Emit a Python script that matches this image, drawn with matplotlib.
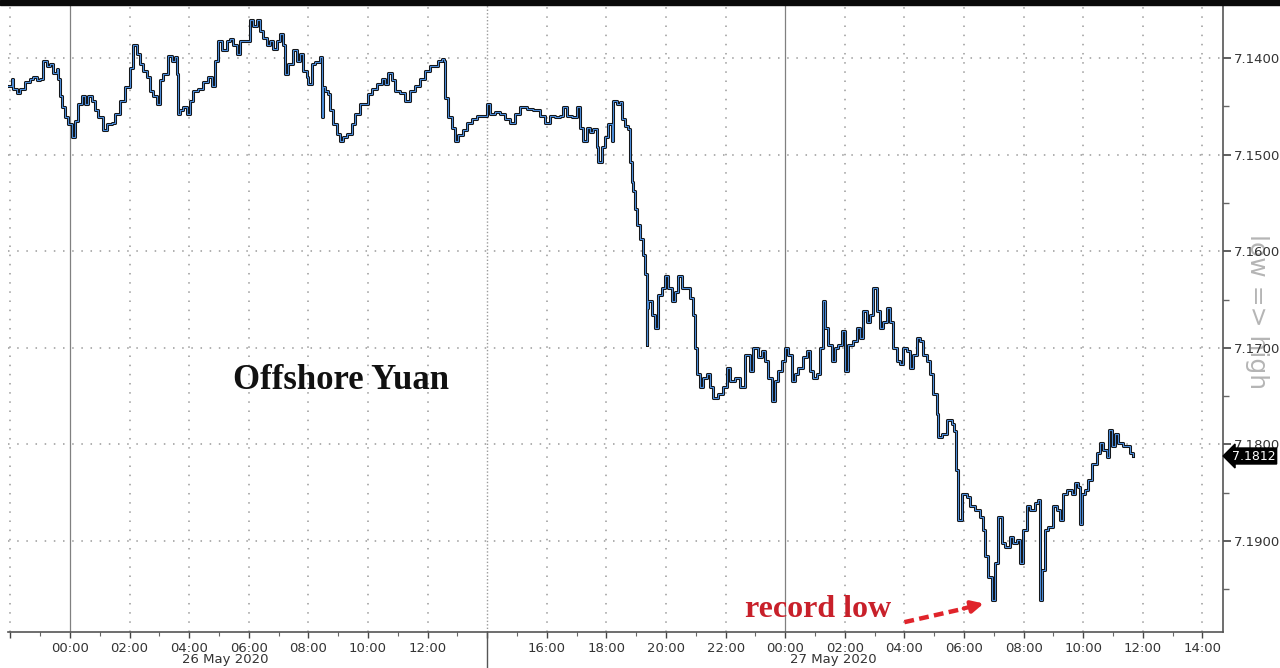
import matplotlib
matplotlib.use("Agg")
import matplotlib.pyplot as plt
import matplotlib.transforms as mtransforms
from matplotlib.patches import Rectangle

# hours since 26 May 2020 00:00
hours = [
    -2.07, -1.96, -1.90, -1.79, -1.68, -1.51, -1.34, -1.23, -1.12, -1.01,
    -0.89, -0.78, -0.67, -0.56, -0.45, -0.39, -0.34, -0.28, -0.17, -0.06,
    0.06, 0.17, 0.28, 0.39, 0.50, 0.61, 0.73, 0.84, 0.95, 1.12,
    1.23, 1.40, 1.51, 1.68, 1.85, 2.01, 2.13, 2.24, 2.35, 2.46,
    2.57, 2.68, 2.80, 2.91, 3.02, 3.13, 3.24, 3.30, 3.41, 3.52,
    3.58, 3.64, 3.69, 3.80, 3.91, 4.03, 4.14, 4.31, 4.47, 4.64,
    4.75, 4.87, 4.98, 5.09, 5.26, 5.37, 5.48, 5.59, 5.70, 5.93,
    6.04, 6.15, 6.26, 6.38, 6.49, 6.60, 6.71, 6.82, 6.94, 7.05,
    7.16, 7.21, 7.33, 7.49, 7.61, 7.72, 7.83, 7.94, 8.00, 8.11,
    8.22, 8.39, 8.44, 8.50, 8.56, 8.67, 8.72, 8.84, 8.95, 9.06,
    9.17, 9.28, 9.45, 9.56, 9.73, 9.90, 10.01, 10.12, 10.29, 10.46,
    10.57, 10.68, 10.79, 10.91, 11.07, 11.24, 11.41, 11.58, 11.74, 11.91,
    12.08, 12.25, 12.36, 12.47, 12.55, 12.58, 12.70, 12.81, 12.92, 13.03,
    13.20, 13.31, 13.48, 13.65, 13.82, 13.98, 14.09, 14.26, 14.43, 14.60,
    14.77, 14.93, 15.10, 15.32, 15.55, 15.77, 15.94, 16.11, 16.28, 16.44,
    16.55, 16.67, 16.83, 17.00, 17.11, 17.22, 17.34, 17.45, 17.56, 17.67,
    17.73, 17.84, 17.95, 18.07, 18.18, 18.23, 18.35, 18.46, 18.51, 18.62,
    18.74, 18.79, 18.85, 18.90, 18.96, 19.02, 19.13, 19.24, 19.30, 19.35,
    19.37, 19.41, 19.52, 19.63, 19.74, 19.85, 19.97, 20.08, 20.19, 20.30,
    20.41, 20.53, 20.69, 20.81, 20.92, 20.97, 21.03, 21.14, 21.25, 21.37,
    21.48, 21.59, 21.76, 21.92, 22.04, 22.15, 22.32, 22.48, 22.65, 22.82,
    22.93, 23.10, 23.21, 23.32, 23.43, 23.55, 23.66, 23.77, 23.88, 23.99,
    24.10, 24.22, 24.33, 24.44, 24.61, 24.72, 24.83, 24.94, 25.06, 25.17,
    25.28, 25.34, 25.45, 25.56, 25.67, 25.78, 25.90, 26.01, 26.12, 26.28,
    26.40, 26.51, 26.62, 26.73, 26.85, 26.96, 27.07, 27.18, 27.29, 27.41,
    27.52, 27.63, 27.74, 27.85, 27.96, 28.08, 28.19, 28.30, 28.41, 28.52,
    28.64, 28.75, 28.86, 28.97, 29.08, 29.14, 29.25, 29.42, 29.59, 29.66,
    29.73, 29.81, 29.92, 29.98, 30.09, 30.20, 30.37, 30.54, 30.65, 30.70,
    30.82, 30.93, 31.04, 31.15, 31.26, 31.38, 31.54, 31.66, 31.77, 31.88,
    31.99, 32.10, 32.21, 32.38, 32.49, 32.55, 32.61, 32.72, 32.83, 33.00,
    33.11, 33.22, 33.33, 33.45, 33.61, 33.72, 33.84, 33.89, 33.95, 34.06,
    34.17, 34.28, 34.45, 34.56, 34.67, 34.79, 34.88, 34.96, 35.07, 35.18,
    35.35, 35.46, 35.57, 35.67,
]
cnh = [
    7.1429, 7.1422, 7.1432, 7.1436, 7.1432, 7.1425, 7.1422, 7.1420, 7.1423, 7.1422,
    7.1403, 7.1408, 7.1406, 7.1415, 7.1411, 7.1422, 7.1439, 7.1451, 7.1461, 7.1468,
    7.1482, 7.1465, 7.1448, 7.1439, 7.1448, 7.1439, 7.1444, 7.1454, 7.1461, 7.1475,
    7.1468, 7.1467, 7.1458, 7.1444, 7.1430, 7.1410, 7.1387, 7.1396, 7.1406, 7.1413,
    7.1420, 7.1434, 7.1439, 7.1448, 7.1423, 7.1417, 7.1417, 7.1398, 7.1403, 7.1399,
    7.1417, 7.1458, 7.1454, 7.1451, 7.1458, 7.1444, 7.1434, 7.1432, 7.1425, 7.1420,
    7.1429, 7.1403, 7.1382, 7.1392, 7.1382, 7.1380, 7.1386, 7.1396, 7.1382, 7.1382,
    7.1361, 7.1367, 7.1361, 7.1372, 7.1379, 7.1386, 7.1382, 7.1391, 7.1382, 7.1375,
    7.1386, 7.1417, 7.1406, 7.1392, 7.1403, 7.1396, 7.1413, 7.1420, 7.1427, 7.1406,
    7.1404, 7.1399, 7.1461, 7.1430, 7.1434, 7.1437, 7.1454, 7.1468, 7.1479, 7.1486,
    7.1482, 7.1479, 7.1468, 7.1458, 7.1448, 7.1448, 7.1437, 7.1432, 7.1427, 7.1422,
    7.1427, 7.1415, 7.1423, 7.1434, 7.1436, 7.1444, 7.1434, 7.1429, 7.1422, 7.1413,
    7.1408, 7.1408, 7.1403, 7.1401, 7.1403, 7.1441, 7.1461, 7.1472, 7.1486, 7.1480,
    7.1475, 7.1467, 7.1463, 7.1460, 7.1460, 7.1448, 7.1458, 7.1456, 7.1458, 7.1463,
    7.1467, 7.1458, 7.1451, 7.1453, 7.1454, 7.1460, 7.1467, 7.1460, 7.1461, 7.1460,
    7.1451, 7.1460, 7.1461, 7.1451, 7.1472, 7.1486, 7.1472, 7.1477, 7.1473, 7.1492,
    7.1508, 7.1492, 7.1482, 7.1468, 7.1486, 7.1444, 7.1448, 7.1446, 7.1463, 7.1470,
    7.1473, 7.1508, 7.1528, 7.1538, 7.1556, 7.1573, 7.1587, 7.1604, 7.1624, 7.1697,
    7.1659, 7.1652, 7.1666, 7.1679, 7.1645, 7.1638, 7.1626, 7.1638, 7.1652, 7.1642,
    7.1626, 7.1638, 7.1638, 7.1648, 7.1666, 7.1700, 7.1727, 7.1741, 7.1731, 7.1727,
    7.1741, 7.1752, 7.1748, 7.1741, 7.1721, 7.1734, 7.1731, 7.1741, 7.1707, 7.1724,
    7.1700, 7.1710, 7.1703, 7.1714, 7.1731, 7.1755, 7.1734, 7.1724, 7.1714, 7.1700,
    7.1707, 7.1734, 7.1727, 7.1721, 7.1710, 7.1703, 7.1724, 7.1731, 7.1727, 7.1700,
    7.1652, 7.1679, 7.1697, 7.1714, 7.1700, 7.1697, 7.1683, 7.1724, 7.1697, 7.1693,
    7.1679, 7.1690, 7.1662, 7.1673, 7.1666, 7.1638, 7.1662, 7.1679, 7.1673, 7.1659,
    7.1673, 7.1700, 7.1714, 7.1717, 7.1700, 7.1703, 7.1721, 7.1707, 7.1690, 7.1693,
    7.1707, 7.1714, 7.1727, 7.1748, 7.1768, 7.1792, 7.1789, 7.1775, 7.1779, 7.1786,
    7.1827, 7.1878, 7.1851, 7.1851, 7.1854, 7.1864, 7.1868, 7.1875, 7.1889, 7.1916,
    7.1937, 7.1961, 7.1923, 7.1875, 7.1902, 7.1906, 7.1896, 7.1902, 7.1899, 7.1923,
    7.1889, 7.1864, 7.1868, 7.1861, 7.1858, 7.1961, 7.1930, 7.1889, 7.1885, 7.1864,
    7.1868, 7.1878, 7.1851, 7.1847, 7.1851, 7.1840, 7.1844, 7.1882, 7.1851, 7.1847,
    7.1837, 7.1820, 7.1809, 7.1799, 7.1806, 7.1813, 7.1785, 7.1802, 7.1789, 7.1799,
    7.1802, 7.1802, 7.1809, 7.1812,
]

tick_hours = list(range(-2, 40, 2))
tick_labels = ["", "00:00", "02:00", "04:00", "06:00", "08:00", "10:00", "12:00", "",
               "16:00", "18:00", "20:00", "22:00", "00:00", "02:00", "04:00", "06:00",
               "08:00", "10:00", "12:00", "14:00"]
price_ticks = [7.14, 7.15, 7.16, 7.17, 7.18, 7.19]
last_price = 7.1812

fig = plt.figure(figsize=(12.8, 6.68), dpi=100)
ax = fig.add_axes([8 / 1280, 1 - 632 / 668, 1215 / 1280, 627 / 668])

ax.set_xlim(-2.08, 38.69)
ax.set_ylim(7.19942, 7.13451)

# grid
for h in tick_hours:
    if h in (0, 24):
        ax.axvline(h, color="#808080", lw=0.9, zorder=1)
    elif h == 14:
        ax.axvline(h, color="#9a9a9a", lw=1.0, ls=(0, (1, 1.5)), zorder=1)
    else:
        ax.axvline(h, color="#9a9a9a", lw=1.1, ls=(0, (1, 5)), zorder=1)
for p in price_ticks:
    ax.axhline(p, color="#9a9a9a", lw=1.1, ls=(0, (1, 5)), zorder=1)

# session break below the axis
ax.plot([14, 14], [7.19942, 7.2033], color="#555555", lw=1.0, clip_on=False)

ax.step(hours, cnh, where="post", color="#111111", lw=2.2, zorder=3)
ax.step(hours, cnh, where="post", color="#4a8ad6", lw=0.8, zorder=4)

# axes styling
for s in ["left", "top"]:
    ax.spines[s].set_visible(False)
for s in ["right", "bottom"]:
    ax.spines[s].set_color("#555555")
    ax.spines[s].set_linewidth(1.2)

ax.yaxis.tick_right()
ax.set_yticks(price_ticks)
ax.set_yticklabels([f"{p:.4f}" for p in price_ticks])
ax.set_yticks([p + 0.005 for p in price_ticks], minor=True)
ax.tick_params(axis="y", which="major", length=6, width=1.2, color="#444444",
               labelsize=9.5, labelcolor="#333333", pad=2)
ax.tick_params(axis="y", which="minor", length=4, width=1.0, color="#666666")

ax.set_xticks(tick_hours)
ax.set_xticklabels(tick_labels)
ax.set_xticks(list(range(-1, 39, 2)), minor=True)
ax.tick_params(axis="x", which="major", length=4, width=1.0, color="#444444",
               labelsize=9.5, labelcolor="#333333", pad=3)
ax.tick_params(axis="x", which="minor", length=3, width=0.8, color="#666666")

trans = mtransforms.blended_transform_factory(ax.transData, fig.transFigure)
ax.text(5.2, 1 - 660 / 668, "26 May 2020", transform=trans, ha="center", va="center",
        fontsize=9.5, color="#333333")
ax.text(25.6, 1 - 660 / 668, "27 May 2020", transform=trans, ha="center", va="center",
        fontsize=9.5, color="#333333")

# last price tag
tag = mtransforms.blended_transform_factory(ax.transAxes, ax.transData)
ax.text(1.007, last_price, "7.1812", transform=tag, ha="left", va="center",
        fontsize=9, color="white", clip_on=False, zorder=6,
        bbox=dict(boxstyle="larrow,pad=0.12", fc="black", ec="black"))

# annotations
ax.text(9.1, 7.1734, "Offshore Yuan", ha="center", va="center", fontsize=25,
        fontweight="bold", family="Liberation Serif", color="#111111")
ax.text(25.1, 7.1971, "record low", ha="center", va="center", fontsize=23,
        fontweight="bold", family="Liberation Serif", color="#c8202a")
ax.plot([28.0, 30.0], [7.1984, 7.1970], color="#e0242b", lw=3.2, ls=(0, (2.2, 1.2)),
        solid_capstyle="butt", zorder=5)
ax.annotate("", xy=(30.75, 7.1964), xytext=(29.9, 7.19705),
            arrowprops=dict(arrowstyle="-|>,head_length=0.7,head_width=0.35",
                            color="#e0242b", lw=3.0), zorder=5)

fig.text(1257 / 1280, 1 - 312 / 668, "low => high", rotation=270, ha="center", va="center",
         fontsize=18, color="#b5b5b5", zorder=-1)

fig.patches.append(Rectangle((0, 1 - 5 / 668), 1, 5 / 668, transform=fig.transFigure,
                             color="#0a0a0a", zorder=10))

fig.savefig("out.png", dpi=100)
